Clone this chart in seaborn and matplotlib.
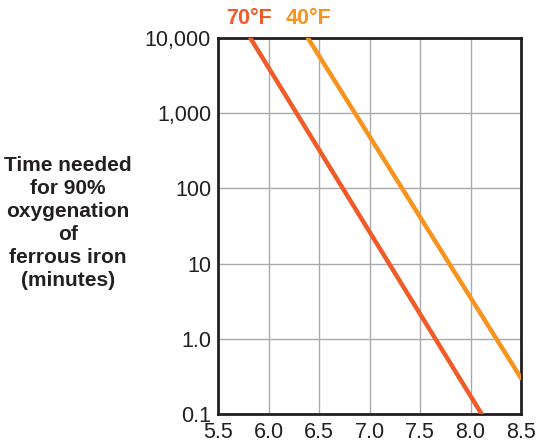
import numpy as np
import pandas as pd
import matplotlib
matplotlib.use('Agg')
import matplotlib.pyplot as plt
import seaborn as sns
from matplotlib.ticker import FixedLocator, FixedFormatter

# Datos
ph_70 = [5.82, 8.11]
time_70 = [10000, 0.1]
ph_40 = [6.39, 8.5]
time_40 = [10000, 0.30]

series_names = ['70°F', '40°F']
series_colors = {'70°F': '#F15A29', '40°F': '#F7941D'}

x_ticks = [5.5, 6.0, 6.5, 7.0, 7.5, 8.0, 8.5]
y_ticks = [0.1, 1.0, 10, 100, 1000, 10000]
y_tick_labels = ['0.1', '1.0', '10', '100', '1,000', '10,000']

df = pd.DataFrame({
    'pH': ph_70 + ph_40,
    'time': time_70 + time_40,
    'temp': ['70°F'] * len(ph_70) + ['40°F'] * len(ph_40),
})

sns.set_style('white')
plt.rcParams['font.family'] = ['Liberation Sans', 'DejaVu Sans']

fig = plt.figure(figsize=(5.38, 4.45), dpi=100)
ax = fig.add_axes([218 / 538, 31 / 445, 303 / 538, 376 / 445])

sns.lineplot(data=df, x='pH', y='time', hue='temp', palette=series_colors,
             linewidth=3.2, legend=False, ax=ax, zorder=3)

ax.set_yscale('log')
ax.set_xlim(5.5, 8.5)
ax.set_ylim(0.1, 10000)
ax.xaxis.set_major_locator(FixedLocator(x_ticks))
ax.set_xticklabels([f'{v:.1f}' for v in x_ticks])
ax.yaxis.set_major_locator(FixedLocator(y_ticks))
ax.yaxis.set_major_formatter(FixedFormatter(y_tick_labels))
ax.yaxis.set_minor_locator(FixedLocator([]))
ax.tick_params(axis='both', length=0, labelsize=15.5, colors='#231F20')
ax.tick_params(axis='y', pad=5)
ax.tick_params(axis='x', pad=6)

ax.grid(True, color='#A7A9AC', linewidth=1.0, zorder=0)
for s in ax.spines.values():
    s.set_color('#231F20')
    s.set_linewidth(2)
ax.set_xlabel('')
ax.set_ylabel('')

# Etiquetas de las series sobre el gráfico
fig.text(249 / 538, 1 - 19 / 445, '70°F', color=series_colors['70°F'],
         fontsize=15.5, fontweight='bold', ha='center', va='center')
fig.text(309 / 538, 1 - 19 / 445, '40°F', color=series_colors['40°F'],
         fontsize=15.5, fontweight='bold', ha='center', va='center')

fig.text(68 / 538, 1 - 223 / 445,
         'Time needed\nfor 90%\noxygenation\nof\nferrous iron\n(minutes)',
         ha='center', va='center', fontsize=15, fontweight='bold',
         color='#231F20', linespacing=1.27)

fig.savefig('out.png', dpi=100)
